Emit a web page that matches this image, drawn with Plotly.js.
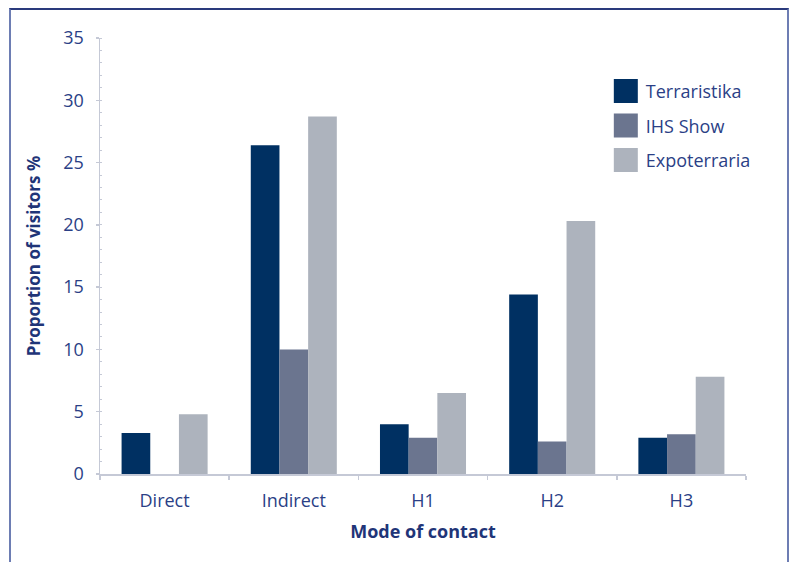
<!DOCTYPE html>
<html>
<head>
<meta charset="utf-8">
<script src="https://cdn.plot.ly/plotly-3.0.1.min.js"></script>
<style>
  html, body { margin: 0; padding: 0; background: #fff; }
  #wrap { position: relative; width: 790px; height: 562px; overflow: hidden; }
  #chart { position: absolute; left: 0; top: 0; width: 790px; height: 562px; }
  #frame { position: absolute; left: 9px; top: 8px; width: 780px; height: 600px; box-sizing: border-box;
           border-left: 2px solid #6d7db3; border-right: 2px solid #6d7db3; border-top: 2px solid #2a3a7c;
           pointer-events: none; }
</style>
</head>
<body>
<div id="wrap">
  <div id="chart"></div>
  <div id="frame"></div>
</div>
<script>
const categories = ["Direct", "Indirect", "H1", "H2", "H3"];
const seriesNames = ["Terraristika", "IHS Show", "Expoterraria"];
const terraristika = [3.3, 26.4, 4.0, 14.4, 2.9];
const ihsShow = [null, 10.0, 2.9, 2.6, 3.2];
const expoterraria = [4.8, 28.7, 6.5, 20.3, 7.8];
const yTickVals = [0, 5, 10, 15, 20, 25, 30, 35];
const colors = ["#003062", "#6b758f", "#adb3bd"];

const textColor = "#2b3f86";
const titleColor = "#1f3578";
const fontFamily = "'Open Sans', 'Noto Sans', sans-serif";

const values = [terraristika, ihsShow, expoterraria];
const traces = values.map((v, i) => ({
  type: "bar",
  name: seriesNames[i],
  x: categories,
  y: v,
  marker: { color: colors[i], line: { width: 0 } },
  legendgroup: "g" + i,
  hoverinfo: "x+y+name"
}));

const layout = {
  width: 790,
  height: 562,
  margin: { l: 100, r: 44, t: 38, b: 88 },
  paper_bgcolor: "#ffffff",
  plot_bgcolor: "#ffffff",
  barmode: "group",
  bargap: 0.334,
  bargroupgap: 0,
  font: { family: fontFamily, size: 18, color: textColor },
  showlegend: true,
  legend: {
    x: 0.783, y: 0.92, xanchor: "left", yanchor: "top",
    font: { family: fontFamily, size: 18, color: textColor },
    bgcolor: "rgba(0,0,0,0)",
    tracegroupgap: 8,
    itemclick: false
  },
  xaxis: {
    type: "category",
    automargin: false,
    showline: true, linecolor: "#c5c9d6", linewidth: 1.5,
    ticks: "outside", ticklen: 4, tickcolor: "#c5c9d6", tickwidth: 1.5,
    tickson: "boundaries",
    ticklabelstandoff: 10,
    tickfont: { family: fontFamily, size: 18, color: textColor },
    showgrid: false, zeroline: false,
    title: { text: "Mode of contact", standoff: 14,
             font: { family: fontFamily, size: 18, color: titleColor, weight: "bold" } }
  },
  yaxis: {
    range: [0, 35],
    automargin: false,
    tickvals: yTickVals,
    showline: true, linecolor: "#c5c9d6", linewidth: 1.5,
    ticks: "outside", ticklen: 3, tickcolor: "#c5c9d6", tickwidth: 1.5,
    ticklabelstandoff: 8,
    minor: { dtick: 1, ticks: "inside", ticklen: 2, tickcolor: "#c5c9d6", tickwidth: 1, showgrid: false },
    tickfont: { family: fontFamily, size: 18, color: textColor },
    showgrid: false, zeroline: false,
    title: { text: "Proportion of visitors %", standoff: 18,
             font: { family: fontFamily, size: 17, color: titleColor, weight: "bold" } }
  }
};

Plotly.newPlot("chart", traces, layout, { staticPlot: true, displayModeBar: false }).then(() => {
  document.querySelectorAll("#chart .legend .legendpoints path").forEach(p => {
    p.setAttribute("d", "M12,12H-12V-12H12Z");
  });
});
</script>
</body>
</html>
